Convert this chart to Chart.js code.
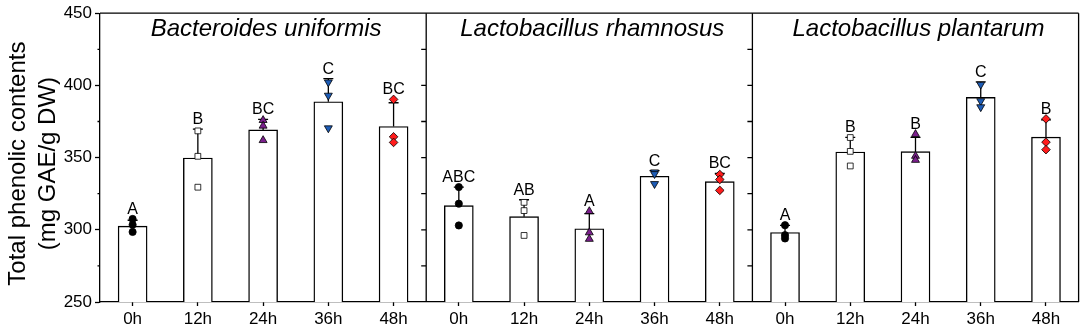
<!DOCTYPE html>
<html><head><meta charset="utf-8">
<script src="https://cdn.jsdelivr.net/npm/chart.js@4/dist/chart.umd.min.js"></script>
<style>html,body{margin:0;padding:0;background:#fff;}#wrap{width:1084px;height:329px;position:relative;}</style>
</head><body><div id="wrap"><canvas id="c" width="1084" height="329"></canvas></div>
<script>
// ---------- data ----------
const timeLabels = ['0h', '12h', '24h', '36h', '48h'];
const strainNames = ['Bacteroides uniformis', 'Lactobacillus rhamnosus', 'Lactobacillus plantarum'];
const yTickValues = [250, 300, 350, 400, 450];

// bar means (mg GAE/g DW)
const buMeans = [302.5, 349.7, 369.2, 388.7, 371.5];
const lrMeans = [316.7, 309.1, 300.7, 337.1, 333.4];
const lpMeans = [298.1, 353.9, 354.1, 391.7, 364.2];
// standard deviations (upper error bars)
const buSD = [4.1, 20.0, 7.3, 16.0, 16.5];
const lrSD = [12.8, 11.7, 10.5, 3.9, 5.6];
const lpSD = [4.9, 10.1, 9.9, 10.8, 11.9];
// individual replicates
const buReps = [[307.5, 303.5, 298.5], [368.5, 350.9, 329.5], [375.9, 372.0, 362.0], [402.2, 393.0, 370.4], [390.3, 364.4, 360.5]];
const lrReps = [[329.6, 318.1, 303.0], [319.0, 313.3, 296.1], [312.8, 298.1, 293.6], [339.9, 338.7, 331.8], [338.3, 334.8, 327.3]];
const lpReps = [[303.2, 296.3, 294.0], [363.9, 354.3, 344.2], [366.2, 351.1, 348.3], [400.6, 389.2, 385.0], [376.8, 360.7, 355.5]];
// significance letters
const buLetters = ['A', 'B', 'BC', 'C', 'BC'];
const lrLetters = ['ABC', 'AB', 'A', 'C', 'BC'];
const lpLetters = ['A', 'B', 'B', 'C', 'B'];

// ---------- derived tables ----------
const allMeans = [...buMeans, ...lrMeans, ...lpMeans];
const allSD = [...buSD, ...lrSD, ...lpSD];
const allReps = [...buReps, ...lrReps, ...lpReps];
const allLetters = [...buLetters, ...lrLetters, ...lpLetters];
const nT = timeLabels.length;

const markerStyles = [
  { pointStyle: 'circle', radius: 3.6, bg: '#000000', rot: 0 },
  { pointStyle: 'rect', radius: 4.1, bg: '#ffffff', rot: 0 },
  { pointStyle: 'triangle', radius: 4.6, bg: '#7b1f8c', rot: 0 },
  { pointStyle: 'triangle', radius: 4.6, bg: '#1d5cb6', rot: 180 },
  { pointStyle: 'rectRot', radius: 4.3, bg: '#ff1c1c', rot: 0 }
];

const barDataset = {
  type: 'bar',
  data: allMeans.map((m, i) => ({ x: i, y: m })),
  backgroundColor: '#ffffff',
  borderColor: '#000000',
  borderWidth: 1.4,
  barThickness: 29,
  order: 2
};

const scatterDatasets = timeLabels.map((t, ti) => {
  const pts = [];
  for (let s = 0; s < strainNames.length; s++) {
    const idx = s * nT + ti;
    allReps[idx].forEach(v => pts.push({ x: idx, y: v }));
  }
  const st = markerStyles[ti];
  return {
    type: 'scatter',
    data: pts,
    pointStyle: st.pointStyle,
    pointRadius: st.radius,
    pointRotation: st.rot,
    backgroundColor: st.bg,
    borderColor: '#000000',
    borderWidth: 0.8,
    order: 1
  };
});

// ---------- decorations plugin ----------
const decor = {
  id: 'decor',
  afterDatasetDraw(chart, args) {
    if (args.index !== 0) return;
    const ctx = chart.ctx, xs = chart.scales.x, ys = chart.scales.y;
    ctx.save();
    ctx.strokeStyle = '#000';
    ctx.lineWidth = 1.3;
    allMeans.forEach((m, i) => {
      const x = xs.getPixelForValue(i);
      const y0 = ys.getPixelForValue(m);
      const y1 = ys.getPixelForValue(m + allSD[i]);
      ctx.beginPath();
      ctx.moveTo(x, y0); ctx.lineTo(x, y1);
      ctx.moveTo(x - 5, y1); ctx.lineTo(x + 5, y1);
      ctx.stroke();
    });
    ctx.restore();
  },
  afterDraw(chart) {
    const ctx = chart.ctx, xs = chart.scales.x, ys = chart.scales.y;
    const a = chart.chartArea;
    ctx.save();
    ctx.strokeStyle = '#000';
    ctx.lineWidth = 1.3;
    // frame top and right
    ctx.beginPath();
    ctx.moveTo(a.left, a.top); ctx.lineTo(a.right, a.top);
    ctx.moveTo(a.right, a.top); ctx.lineTo(a.right, a.bottom);
    ctx.stroke();
    // left axis minor ticks
    const minorVals = [];
    for (let i = 0; i < yTickValues.length - 1; i++) minorVals.push((yTickValues[i] + yTickValues[i + 1]) / 2);
    ctx.beginPath();
    minorVals.forEach(v => { const y = ys.getPixelForValue(v); ctx.moveTo(a.left - 2.5, y); ctx.lineTo(a.left, y); });
    ctx.stroke();
    // panel dividers with ticks
    for (let s = 1; s < strainNames.length; s++) {
      const x = xs.getPixelForValue(s * nT - 0.5);
      ctx.beginPath();
      ctx.moveTo(x, a.top); ctx.lineTo(x, a.bottom);
      [...yTickValues, ...minorVals].forEach(v => {
        if (v <= ys.min || v >= ys.max) return;
        const y = ys.getPixelForValue(v);
        ctx.moveTo(x - 5, y); ctx.lineTo(x, y);
      });
      ctx.stroke();
    }
    // panel titles
    ctx.fillStyle = '#000';
    ctx.font = 'italic 24px "Liberation Sans", Arial, sans-serif';
    ctx.textAlign = 'center';
    ctx.textBaseline = 'alphabetic';
    strainNames.forEach((name, s) => {
      const x0 = xs.getPixelForValue(s * nT - 0.5);
      const x1 = xs.getPixelForValue(s * nT + nT - 0.5);
      ctx.fillText(name, (x0 + x1) / 2 + 3, a.top + 22.5);
    });
    // letters
    ctx.font = '16px "Liberation Sans", Arial, sans-serif';
    allLetters.forEach((L, i) => {
      const top = Math.max(allMeans[i] + allSD[i], ...allReps[i]);
      const x = xs.getPixelForValue(i);
      const y = ys.getPixelForValue(top) - 5;
      ctx.fillText(L, x, y);
    });
    // y-axis title
    ctx.font = '24px "Liberation Sans", Arial, sans-serif';
    ctx.textBaseline = 'middle';
    ctx.translate(18, (a.top + a.bottom) / 2 + 6);
    ctx.rotate(-Math.PI / 2);
    ctx.fillText('Total phenolic contents', 0, 0);
    ctx.fillText('(mg GAE/g DW)', 0, 30);
    ctx.restore();
  }
};

Chart.defaults.font.family = '"Liberation Sans", Arial, sans-serif';
Chart.defaults.color = '#000';

new Chart(document.getElementById('c'), {
  type: 'bar',
  data: { datasets: [barDataset, ...scatterDatasets] },
  options: {
    responsive: false,
    animation: false,
    devicePixelRatio: 1,
    layout: { padding: { top: 11, right: 5, left: 0, bottom: 0 } },
    plugins: { legend: { display: false }, tooltip: { enabled: false } },
    scales: {
      x: {
        type: 'linear',
        offset: false,
        min: -0.5,
        max: strainNames.length * nT - 0.5,
        afterBuildTicks: sc => { sc.ticks = allMeans.map((_, i) => ({ value: i })); },
        afterFit: sc => { sc.height = 27; },
        ticks: {
          autoSkip: false, maxRotation: 0, padding: 3,
          font: { size: 17 }, color: '#000',
          callback: v => timeLabels[v % nT]
        },
        grid: { offset: false, drawOnChartArea: false, tickLength: 4, tickColor: '#000', tickWidth: 1.3 },
        border: { display: true, color: '#000', width: 1.3 }
      },
      y: {
        min: yTickValues[0],
        max: yTickValues[yTickValues.length - 1],
        afterBuildTicks: sc => { sc.ticks = yTickValues.map(v => ({ value: v })); },
        afterFit: sc => { sc.width = 100; },
        ticks: { padding: 3, font: { size: 17 }, color: '#000' },
        grid: { drawOnChartArea: false, tickLength: 5, tickColor: '#000', tickWidth: 1.3 },
        border: { display: true, color: '#000', width: 1.3 }
      }
    }
  },
  plugins: [decor]
});
</script>
</body></html>
